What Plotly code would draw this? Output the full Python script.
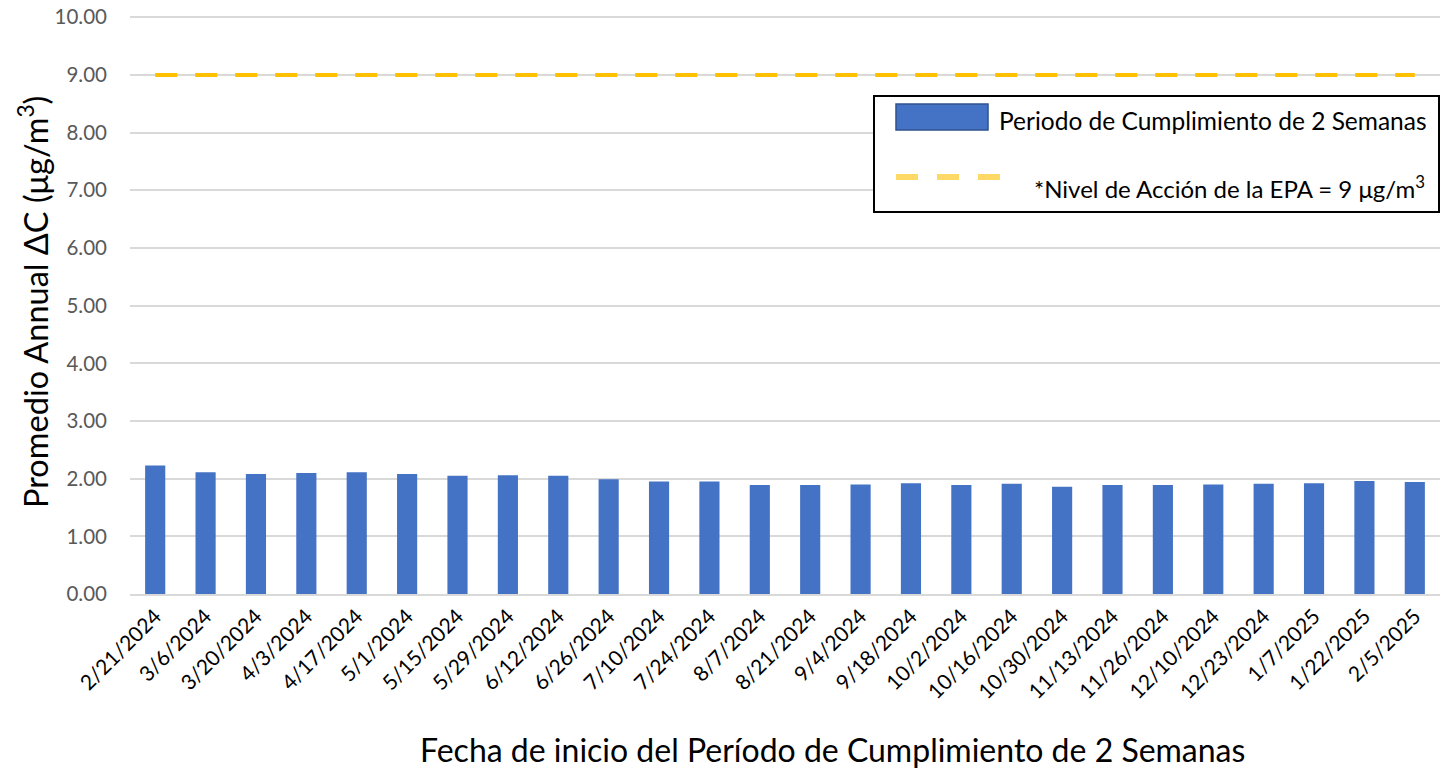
import plotly.graph_objects as go

categories = ["2/21/2024", "3/6/2024", "3/20/2024", "4/3/2024", "4/17/2024", "5/1/2024",
              "5/15/2024", "5/29/2024", "6/12/2024", "6/26/2024", "7/10/2024", "7/24/2024",
              "8/7/2024", "8/21/2024", "9/4/2024", "9/18/2024", "10/2/2024", "10/16/2024",
              "10/30/2024", "11/13/2024", "11/26/2024", "12/10/2024", "12/23/2024",
              "1/7/2025", "1/22/2025", "2/5/2025"]
annual_avg = [2.23, 2.11, 2.08, 2.10, 2.11, 2.08, 2.05, 2.06, 2.05, 1.99, 1.95, 1.95,
              1.89, 1.89, 1.90, 1.92, 1.89, 1.91, 1.86, 1.89, 1.89, 1.90, 1.91, 1.92,
              1.96, 1.94]
epa_level = [9.0] * len(categories)
y_ticks = [0, 1, 2, 3, 4, 5, 6, 7, 8, 9, 10]
Y_MAX = 10.04  # slightly above 10 so the top gridline is drawn

FONT = "Lato"
W, H = 1444, 769
# plot area in page pixels: x 130..1440, y 15..594
L, T = 130, 15
R = W - 1440
B = H - 594
PW, PH = W - L - R, H - T - B


def px(x):
    return (x - L) / PW


def py(y):
    return (H - B - y) / PH


fig = go.Figure()
fig.add_trace(go.Bar(x=categories, y=annual_avg, marker=dict(color="#4472C4", line=dict(width=0)),
                     showlegend=False, name="Periodo de Cumplimiento de 2 Semanas"))
fig.add_trace(go.Scatter(x=categories, y=epa_level, mode="lines", showlegend=False,
                         line=dict(color="#FFC000", width=4, dash="22px,18px"),
                         name="*Nivel de Acción de la EPA = 9 μg/m³"))

shapes = []
annotations = []
# legend box
shapes.append(dict(type="rect", xref="paper", yref="paper", x0=px(874), x1=px(1439), y0=py(96), y1=py(212),
                   line=dict(color="black", width=2), fillcolor="white", layer="above"))
shapes.append(dict(type="rect", xref="paper", yref="paper", x0=px(896), x1=px(988), y0=py(104), y1=py(130),
                   line=dict(color="#2F528F", width=1.5), fillcolor="#4472C4", layer="above"))
shapes.append(dict(type="line", xref="paper", yref="paper", x0=px(896), x1=px(1000), y0=py(177), y1=py(177),
                   line=dict(color="#FFD966", width=6, dash="22px,19px"), layer="above"))
annotations.append(dict(xref="paper", yref="paper", x=px(997), y=py(121), xanchor="left", yanchor="middle",
                        text="Periodo de Cumplimiento de 2 Semanas", showarrow=False,
                        font=dict(family=FONT, size=24.5, color="black")))
annotations.append(dict(xref="paper", yref="paper", x=px(1032), y=py(187), xanchor="left", yanchor="middle",
                        text="*Nivel de Acción de la EPA = 9 μg/m<sup>3</sup>", showarrow=False,
                        font=dict(family=FONT, size=24, color="black")))
# axis titles
annotations.append(dict(xref="paper", yref="paper", x=px(33), y=py(302), xanchor="center", yanchor="middle",
                        textangle=-90, text="Promedio Annual ΔC (μg/m<sup>3</sup>)", showarrow=False,
                        font=dict(family=FONT, size=32.5, color="black")))
annotations.append(dict(xref="paper", yref="paper", x=px(832), y=py(749), xanchor="center", yanchor="middle",
                        text="Fecha de inicio del Período de Cumplimiento de 2 Semanas", showarrow=False,
                        font=dict(family=FONT, size=32, color="black")))

fig.update_layout(
    width=W, height=H,
    margin=dict(l=L, r=R, t=T, b=B, pad=0),
    paper_bgcolor="white", plot_bgcolor="white",
    bargap=0.6,
    font=dict(family=FONT),
    shapes=shapes, annotations=annotations,
    xaxis=dict(tickangle=-45, tickfont=dict(family=FONT, size=21, color="black"),
               showline=True, linecolor="#D9D9D9", linewidth=1.5, ticks="", showgrid=False),
    yaxis=dict(range=[0, Y_MAX], tickvals=y_ticks, tickformat=".2f",
               tickfont=dict(family=FONT, size=20.5, color="#595959"),
               showgrid=True, gridcolor="#D9D9D9", gridwidth=1.5, zeroline=False,
               ticks="", ticklabelstandoff=22, showline=False, ticklabeloverflow="allow"),
)

fig.write_html("out.html", config={"displayModeBar": False},
               post_script="document.body.style.margin='0';document.body.style.overflow='hidden';")
